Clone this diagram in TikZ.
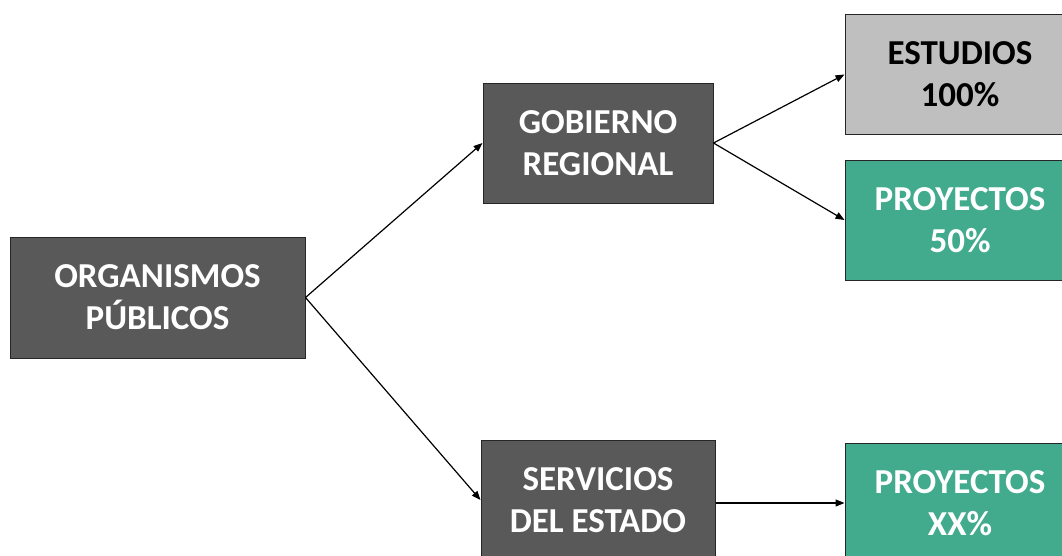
\documentclass[tikz,border=0pt]{standalone}
\usepackage{fontspec}
\setmainfont{Carlito}
\usetikzlibrary{arrows.meta}
\definecolor{darkbox}{HTML}{595959}
\definecolor{lightbox}{HTML}{BFBFBF}
\definecolor{tealbox}{HTML}{42AB8D}
\tikzset{
  box/.style={draw=black!85, line width=1pt, minimum width=230pt, minimum height=120pt,
    inner sep=0pt, align=center, font=\fontsize{35}{42}\selectfont\bfseries},
  darkb/.style={box, fill=darkbox, text=white},
  lightb/.style={box, fill=lightbox, text=black},
  tealb/.style={box, fill=tealbox, text=white},
  conn/.style={draw=black, line width=1.2pt, -{Triangle[length=9pt,width=7pt]}}
}
\begin{document}
\begin{tikzpicture}[x=1pt,y=-1pt]
\useasboundingbox (0,0) rectangle (1062,555);
\clip (0,0) rectangle (1062,555);
\fill[white] (0,0) rectangle (1062,555);
\node[darkb, minimum width=295pt, minimum height=121pt] (org) at (157.5,297.5) {ORGANISMOS\\PÚBLICOS};
\node[darkb] (gob) at (598,143) {GOBIERNO\\REGIONAL};
\node[darkb, minimum width=234pt] (serv) at (598,500) {SERVICIOS\\DEL ESTADO};
\node[lightb] (est) at (960,74.5) {ESTUDIOS\\100\%};
\node[tealb] (p50) at (960,220) {PROYECTOS\\50\%};
\node[tealb] (pxx) at (960,503) {PROYECTOS\\XX\%};
\draw[conn] (org.east) -- (gob.west);
\draw[conn] (org.east) -- (serv.west);
\draw[conn] (gob.east) -- (est.west);
\draw[conn] (gob.east) -- (p50.west);
\draw[conn] (serv.east |- pxx.west) -- (pxx.west);
\end{tikzpicture}
\end{document}
